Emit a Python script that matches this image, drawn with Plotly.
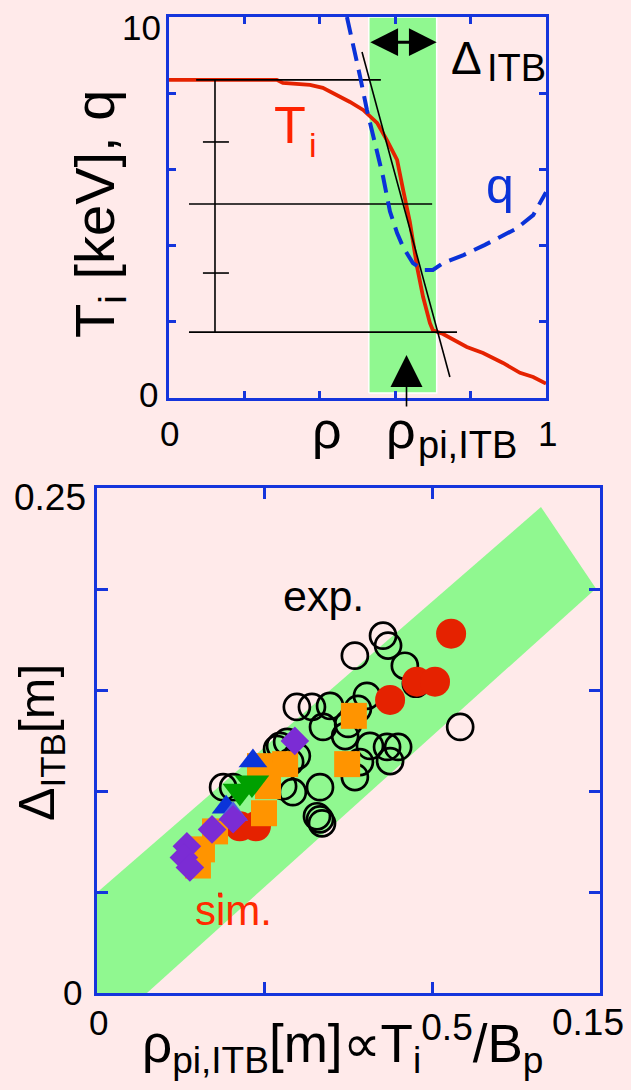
import plotly.graph_objects as go

W, H = 631, 1090
BG = "#FFEAEA"
GREEN = "#90F890"
BLUE = "#1535DC"
RED = "#E52200"
FONT = "Liberation Sans, Arial, sans-serif"

# ---------------- upper panel: profiles ----------------
rho_ti = [0.0, 0.286, 0.302, 0.374, 0.408, 0.446, 0.480, 0.515, 0.552, 0.578,
          0.605, 0.621, 0.639, 0.658, 0.674, 0.692, 0.700, 0.727, 0.790, 0.833,
          0.886, 0.931, 0.966, 1.0]
ti_kev = [8.35, 8.35, 8.27, 8.22, 8.14, 7.95, 7.77, 7.56, 7.22, 6.77,
          6.25, 5.46, 4.62, 3.44, 2.65, 1.97, 1.78, 1.68, 1.34, 1.18,
          0.92, 0.66, 0.55, 0.38]

rho_q = [0.472, 0.488, 0.507, 0.525, 0.546, 0.568, 0.586, 0.605, 0.621, 0.647,
         0.674, 0.700, 0.727, 0.781, 0.838, 0.878, 0.922, 0.966, 0.989, 1.0]
q_val = [10.0, 9.32, 8.43, 7.56, 6.69, 5.80, 4.90, 4.33, 3.96, 3.54,
         3.36, 3.36, 3.54, 3.75, 4.02, 4.23, 4.45, 4.80, 5.20, 5.40]

itb_rho = [0.53, 0.71]          # ITB width
itb_T = [0.13, 10.0]
rho_pi_itb = 0.63

tan_rho = [0.512, 0.745]        # gradient tangent
tan_T = [9.08, 0.55]

hline_T = [8.35, 5.09, 1.73]
hline_start = [0.072, 0.053, 0.053]
hline_end = [0.562, 0.698, 0.764]
vbar_rho = 0.122
midtick_T = [6.72, 3.28]
midtick_rho = [0.090, 0.159]

# ---------------- lower panel: scaling ----------------
exp_x = [0.0853, 0.0868, 0.0769, 0.0918, 0.0951, 0.0596, 0.0641, 0.0695, 0.0805,
         0.0778, 0.0674, 0.0749, 0.0740, 0.0814, 0.0865, 0.0898, 0.0874, 0.0784,
         0.0769, 0.1083, 0.0546, 0.0567, 0.0537, 0.0576, 0.0596, 0.0665, 0.0584,
         0.0555, 0.0376, 0.0406, 0.0656, 0.0665, 0.0671]
exp_y = [0.1769, 0.1720, 0.1670, 0.1620, 0.1531, 0.1416, 0.1416, 0.1421, 0.1471,
         0.1407, 0.1317, 0.1332, 0.1272, 0.1223, 0.1218, 0.1218, 0.1148, 0.1143,
         0.1069, 0.1317, 0.1223, 0.1243, 0.1208, 0.1143, 0.1173, 0.1019, 0.0994,
         0.1024, 0.1019, 0.1019, 0.0875, 0.0860, 0.0840]

sim_red_x = [0.1056, 0.0874, 0.0954, 0.1008, 0.0426, 0.0474]
sim_red_y = [0.1779, 0.1451, 0.1541, 0.1541, 0.0825, 0.0825]
sim_orange_x = [0.0766, 0.0746, 0.0561, 0.0486, 0.0510, 0.0498, 0.0352, 0.0301, 0.0313]
sim_orange_y = [0.1372, 0.1133, 0.1133, 0.1123, 0.1024, 0.0890, 0.0800, 0.0631, 0.0711]
sim_blue_x = [0.0465, 0.0385]
sim_blue_y = [0.1148, 0.0919]
sim_green_x = [0.0462, 0.0426]
sim_green_y = [0.1039, 0.0999]
sim_lblue_x = [0.0406]
sim_lblue_y = [0.0885]
sim_purple_x = [0.0590, 0.0343, 0.0268, 0.0259, 0.0277, 0.0406]
sim_purple_y = [0.1248, 0.0810, 0.0726, 0.0671, 0.0621, 0.0860]
sim_dot_x = [0.0367]
sim_dot_y = [0.0487]

band_x = [0.0, 0.0149, 0.1488, 0.1324, 0.0, 0.0]
band_y = [0.0, 0.0, 0.2003, 0.2406, 0.0497, 0.0]

fig = go.Figure()

# ITB band
fig.add_trace(go.Scatter(
    x=[itb_rho[0], itb_rho[1], itb_rho[1], itb_rho[0], itb_rho[0]],
    y=[itb_T[0], itb_T[0], itb_T[1], itb_T[1], itb_T[0]],
    fill="toself", fillcolor=GREEN, mode="lines",
    line=dict(color="white", width=1.5), xaxis="x", yaxis="y", hoverinfo="skip"))

# Ti profile
fig.add_trace(go.Scatter(x=rho_ti, y=ti_kev, mode="lines",
                         line=dict(color=RED, width=3.8), xaxis="x", yaxis="y"))

# construction lines
hx, hy = [], []
for t, a, b in zip(hline_T, hline_start, hline_end):
    hx += [a, b, None]
    hy += [t, t, None]
hx += [vbar_rho, vbar_rho, None]
hy += [hline_T[0], hline_T[-1], None]
for t in midtick_T:
    hx += [midtick_rho[0], midtick_rho[1], None]
    hy += [t, t, None]
hx += tan_rho
hy += tan_T
fig.add_trace(go.Scatter(x=hx, y=hy, mode="lines",
                         line=dict(color="black", width=1.6), xaxis="x", yaxis="y"))

# q profile
fig.add_trace(go.Scatter(x=rho_q, y=q_val, mode="lines",
                         line=dict(color="#0A32D8", width=4, dash="18px,9px"),
                         xaxis="x", yaxis="y"))

# lower panel band
fig.add_trace(go.Scatter(x=band_x, y=band_y, fill="toself", fillcolor=GREEN,
                         mode="none", xaxis="x2", yaxis="y2", hoverinfo="skip"))

fig.add_trace(go.Scatter(x=exp_x, y=exp_y, mode="markers", xaxis="x2", yaxis="y2",
                         marker=dict(symbol="circle-open", size=26, color="black",
                                     line=dict(width=2.7, color="black"))))
fig.add_trace(go.Scatter(x=sim_red_x, y=sim_red_y, mode="markers", xaxis="x2", yaxis="y2",
                         marker=dict(symbol="circle", size=30, color=RED)))
fig.add_trace(go.Scatter(x=sim_orange_x, y=sim_orange_y, mode="markers", xaxis="x2", yaxis="y2",
                         marker=dict(symbol="square", size=26, color="#FF9400")))
fig.add_trace(go.Scatter(x=sim_blue_x, y=sim_blue_y, mode="markers", xaxis="x2", yaxis="y2",
                         marker=dict(symbol="triangle-up", size=25, color="#0B34D9")))
fig.add_trace(go.Scatter(x=sim_green_x, y=sim_green_y, mode="markers", xaxis="x2", yaxis="y2",
                         marker=dict(symbol="triangle-down", size=30, color="#00A000")))
fig.add_trace(go.Scatter(x=sim_lblue_x, y=sim_lblue_y, mode="markers", xaxis="x2", yaxis="y2",
                         marker=dict(symbol="triangle-up", size=26, color="#5060DE")))
fig.add_trace(go.Scatter(x=sim_purple_x, y=sim_purple_y, mode="markers", xaxis="x2", yaxis="y2",
                         marker=dict(symbol="diamond", size=22, color="#7B2CD4")))
fig.add_trace(go.Scatter(x=sim_dot_x, y=sim_dot_y, mode="markers", xaxis="x2", yaxis="y2",
                         marker=dict(symbol="square", size=4, color=RED)))


def px(x):
    return x / W


def py(y):
    return 1 - y / H


axis_common = dict(showline=True, linecolor=BLUE, linewidth=3, mirror="ticks",
                   ticks="inside", tickcolor=BLUE, tickwidth=2.5,
                   showgrid=False, zeroline=False, showticklabels=False, fixedrange=True)

annotations = []


def label(text, x, y, size, color="black", xanchor="center", yanchor="middle",
          angle=0, family=FONT):
    annotations.append(dict(text=text, x=px(x), y=py(y), xref="paper", yref="paper",
                            showarrow=False, xanchor=xanchor, yanchor=yanchor,
                            textangle=angle, font=dict(size=size, color=color, family=family)))


# upper panel labels
label("10", 141, 27, 35)
label("0", 148, 395, 35)
label("0", 169, 433, 35)
label("1", 547, 434, 35)
label("ρ", 327, 430, 52)
label("ρ", 401, 430, 52)
label("pi,ITB", 416, 445, 38, xanchor="left")
label("T<sub>i</sub> [keV], q", 98, 214, 56, angle=-90)
label("T", 290, 125, 52, color="#FF2200")
label("i", 313, 145, 34, color="#FF2200")
label("q", 500, 186, 50, color="#0A32D8")
label("Δ", 467, 58, 46)
label("ITB", 485, 68, 38, xanchor="left")

# lower panel labels
label("0.25", 50, 497, 37)
label("0", 72, 992, 35)
label("0", 98, 1022, 35)
label("0.15", 588, 1022, 37)
label("Δ<sub>ITB</sub>[m]", 40, 743, 50, angle=-90)
label("ρ<sub>pi,ITB</sub>[m]∝T<sub>i</sub><sup>0.5</sup>/B<sub>p</sub>", 342, 1043, 53)
label("exp.", 324, 596, 43)
label("sim.", 233, 910, 42, color="#FF2A00")

# arrows: ITB width and foot position
annotations.append(dict(x=itb_rho[1], y=9.34, ax=itb_rho[0], ay=9.34,
                        xref="x", yref="y", axref="x", ayref="y", text="",
                        showarrow=True, arrowside="end+start", arrowhead=2, startarrowhead=2,
                        arrowwidth=3, arrowsize=1.85, startarrowsize=1.85,
                        arrowcolor="black", standoff=0, startstandoff=0))
annotations.append(dict(x=rho_pi_itb, y=1.13, ax=rho_pi_itb, ay=-0.26,
                        xref="x", yref="y", axref="x", ayref="y", text="",
                        showarrow=True, arrowhead=2, arrowwidth=1.6, arrowsize=4.0,
                        arrowcolor="black", standoff=0))

fig.update_layout(
    width=W, height=H, margin=dict(l=0, r=0, t=0, b=0),
    paper_bgcolor=BG, plot_bgcolor=BG, showlegend=False,
    xaxis=dict(domain=[px(169), px(546)], range=[0, 1], dtick=0.2, ticklen=7,
               anchor="y", **axis_common),
    yaxis=dict(domain=[py(398), py(17)], range=[0, 10], dtick=2, ticklen=7,
               anchor="x", **axis_common),
    xaxis2=dict(domain=[px(97), px(600)], range=[0, 0.15], dtick=0.05, ticklen=11,
                anchor="y2", **axis_common),
    yaxis2=dict(domain=[py(993), py(488)], range=[0, 0.25], dtick=0.05, ticklen=11,
                anchor="x2", **axis_common),
    annotations=annotations,
)

fig.write_html("out.html")
